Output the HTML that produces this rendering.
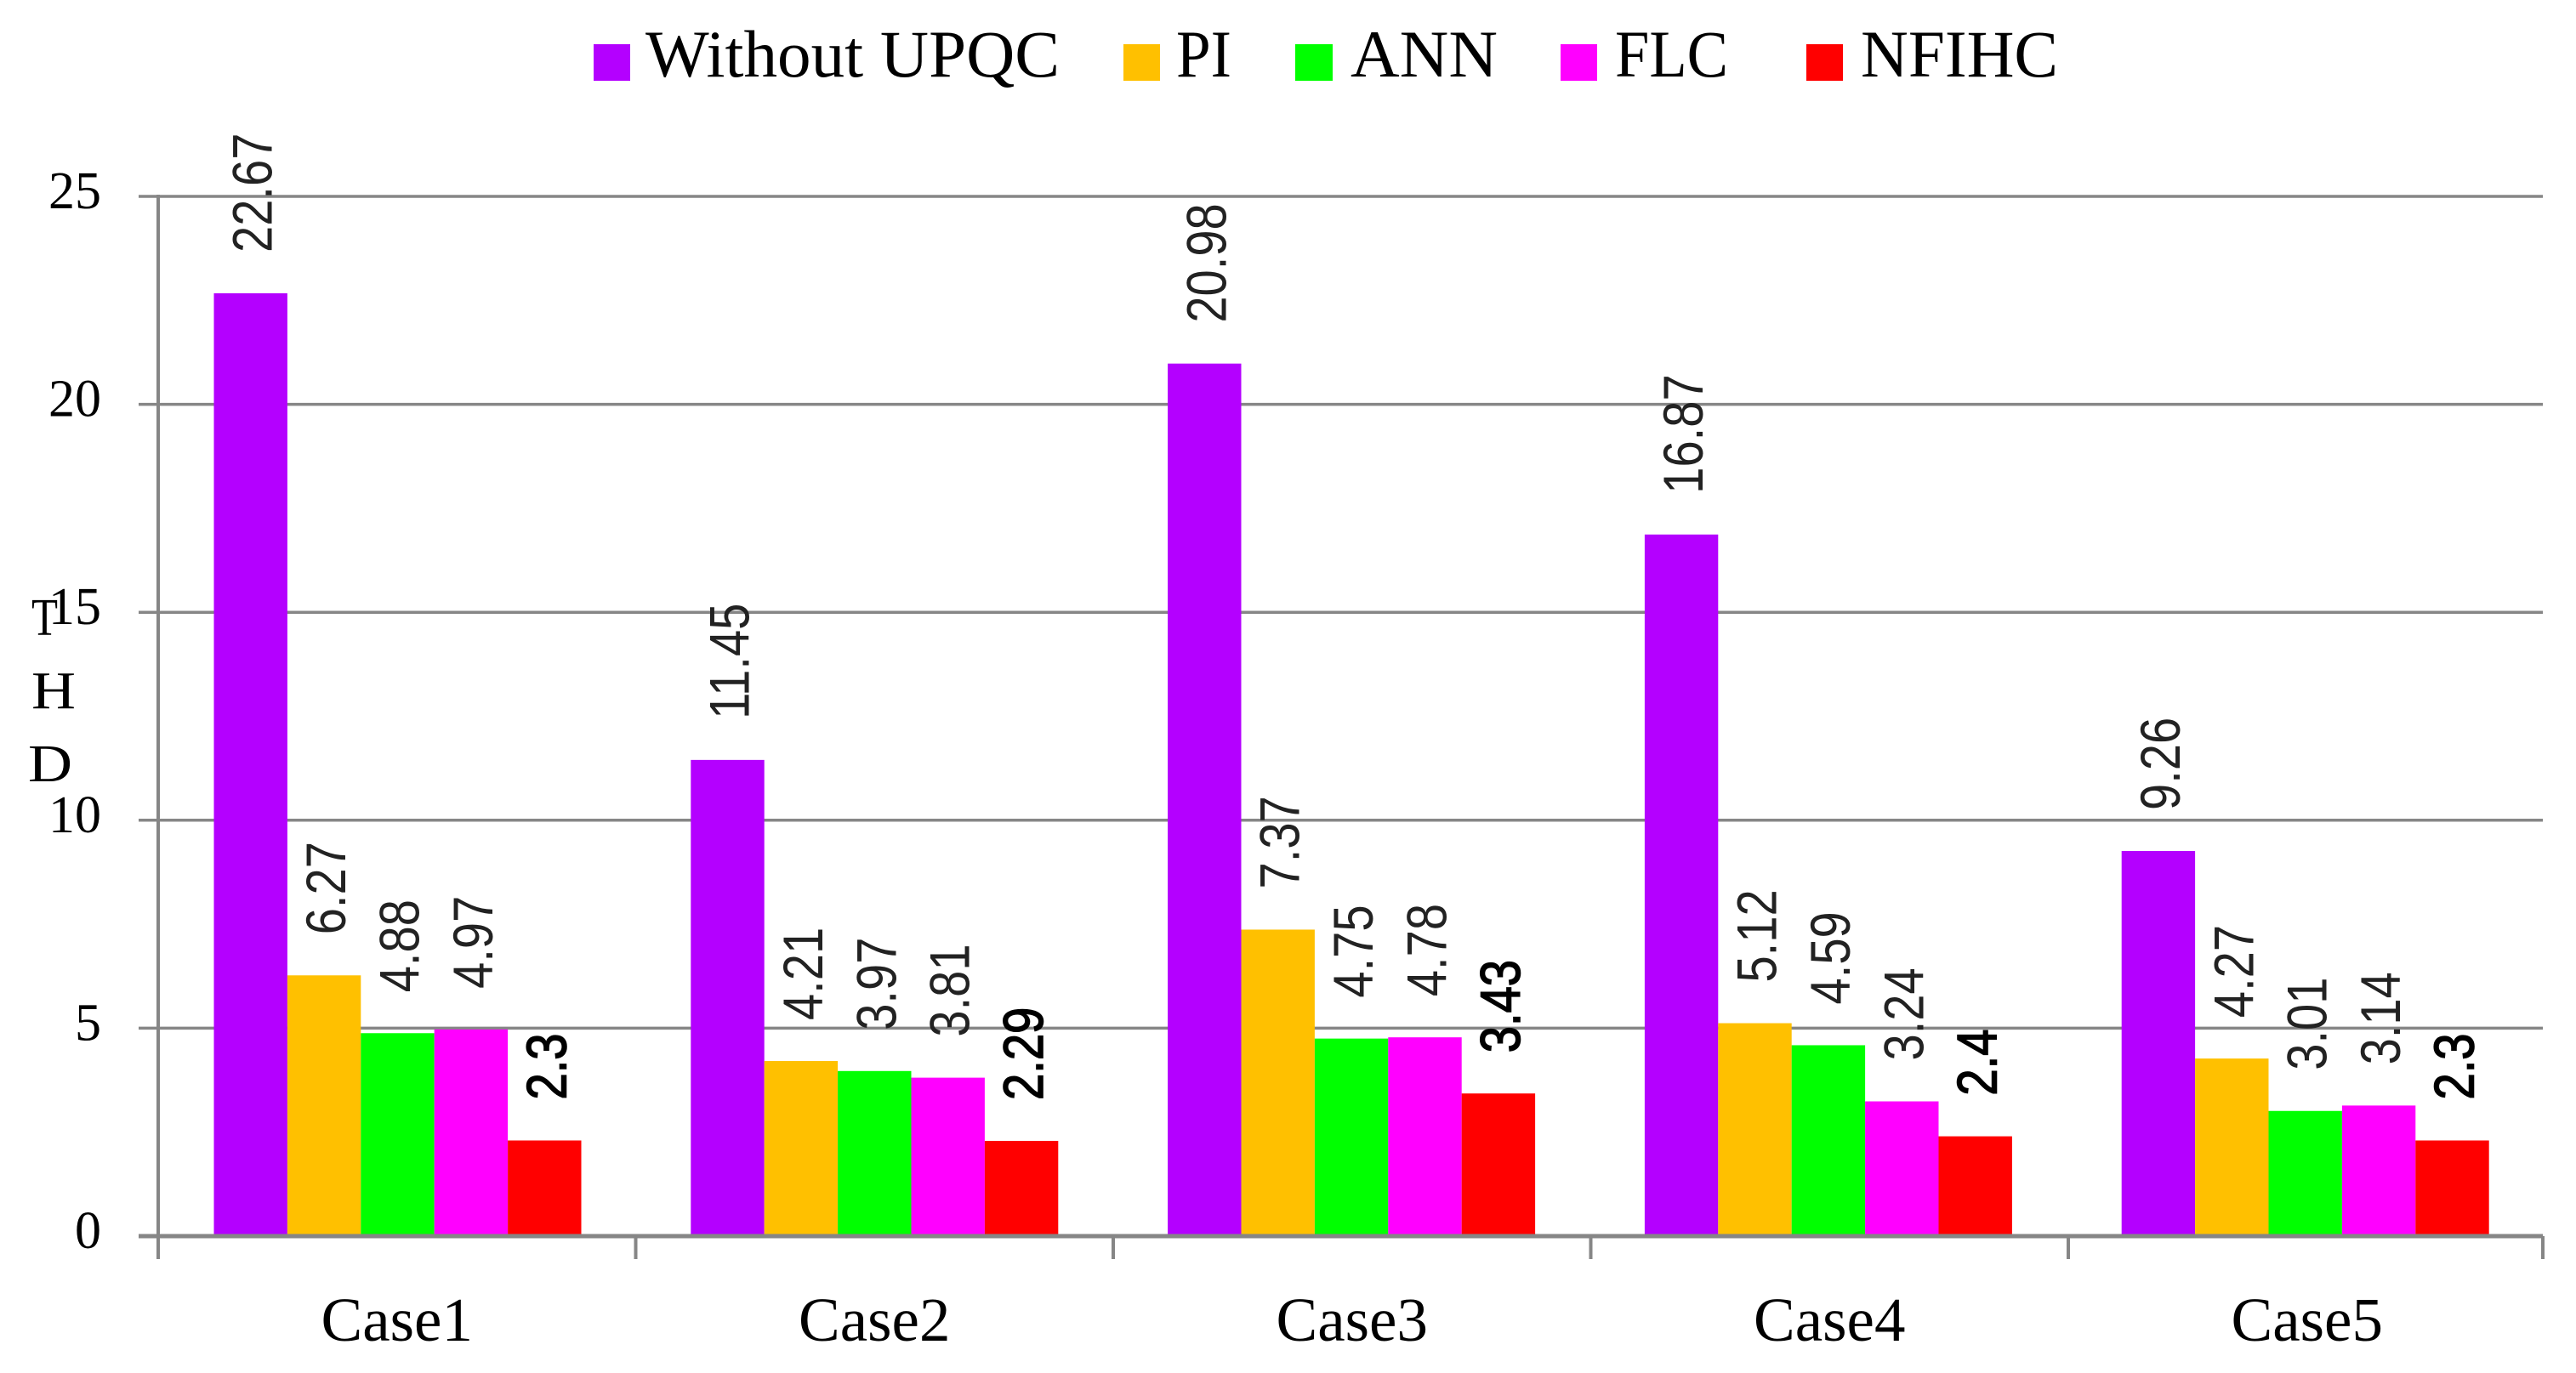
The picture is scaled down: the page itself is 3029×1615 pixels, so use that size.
<!DOCTYPE html>
<html lang="en">
<head>
<meta charset="utf-8">
<title>THD comparison chart</title>
<style>
  html, body { margin: 0; padding: 0; background: #fff; }
  #chart { display: block; width: 3029px; height: 1615px; }
  text { font-family: "Liberation Serif", serif; fill: #000; }
  .value-label { font-family: "Liberation Sans", sans-serif; font-size: 66px; fill: #222; }
  .value-label-strong { font-family: "Liberation Sans", sans-serif; font-size: 66px; fill: #000; stroke: #000; stroke-width: 1.6px; }
</style>
</head>
<body>
<svg id="chart" xmlns="http://www.w3.org/2000/svg" width="3029" height="1615" viewBox="0 0 3029 1615">
  <rect x="0" y="0" width="3029" height="1615" fill="#fff"/>

  <g id="grid"></g>
  <g id="bars"></g>
  <g id="axes"></g>
  <g id="labels"></g>

  <g font-size="62">
    <text x="37" y="747" textLength="31" lengthAdjust="spacingAndGlyphs">T</text>
    <text x="37" y="833" textLength="52" lengthAdjust="spacingAndGlyphs">H</text>
    <text x="33" y="919" textLength="52" lengthAdjust="spacingAndGlyphs">D</text>
  </g>

  <g font-size="78">
    <g>
      <rect x="698" y="52" width="43" height="43" fill="#b400ff"/>
      <text x="759" y="90" textLength="487" lengthAdjust="spacingAndGlyphs">Without UPQC</text>
    </g>
    <g>
      <rect x="1321" y="52" width="43" height="43" fill="#ffc000"/>
      <text x="1383" y="90" textLength="65" lengthAdjust="spacingAndGlyphs">PI</text>
    </g>
    <g>
      <rect x="1523" y="52" width="44" height="43" fill="#00ff00"/>
      <text x="1588" y="90" textLength="173" lengthAdjust="spacingAndGlyphs">ANN</text>
    </g>
    <g>
      <rect x="1835" y="52" width="43" height="43" fill="#ff00ff"/>
      <text x="1899" y="90" textLength="133" lengthAdjust="spacingAndGlyphs">FLC</text>
    </g>
    <g>
      <rect x="2124" y="52" width="43" height="43" fill="#ff0000"/>
      <text x="2188" y="90" textLength="232" lengthAdjust="spacingAndGlyphs">NFIHC</text>
    </g>
  </g>
</svg>

<script>
const categories = ['Case1', 'Case2', 'Case3', 'Case4', 'Case5'];
const yTicks = [0, 5, 10, 15, 20, 25];
const withoutUpqc = [22.67, 11.45, 20.98, 16.87, 9.26];
const pi = [6.27, 4.21, 7.37, 5.12, 4.27];
const ann = [4.88, 3.97, 4.75, 4.59, 3.01];
const flc = [4.97, 3.81, 4.78, 3.24, 3.14];
const nfihc = [2.3, 2.29, 3.43, 2.4, 2.3];

const seriesList = [
  { key: 'without-upqc', values: withoutUpqc, color: '#b400ff', strong: false },
  { key: 'pi', values: pi, color: '#ffc000', strong: false },
  { key: 'ann', values: ann, color: '#00ff00', strong: false },
  { key: 'flc', values: flc, color: '#ff00ff', strong: false },
  { key: 'nfihc', values: nfihc, color: '#ff0000', strong: true }
];

const NS = 'http://www.w3.org/2000/svg';
const axisColor = '#868686';
const plotLeft = 186;
const plotRight = 2990;
const plotBottom = 1454;
const pxPerUnit = 48.92;
const step = (plotRight - plotLeft) / categories.length;
const tickStep = 561.5;
const groupOffset = 65.5;
const barWidth = 86.4;
const labelGap = 48;

function yScale(v) { return plotBottom - v * pxPerUnit; }
function barX(catIndex, seriesIndex) { return plotLeft + step * catIndex + groupOffset + barWidth * seriesIndex; }

function svgEl(tag, attrs, parent) {
  const el = document.createElementNS(NS, tag);
  Object.keys(attrs).forEach(function (k) { el.setAttribute(k, attrs[k]); });
  parent.appendChild(el);
  return el;
}

const gridG = document.getElementById('grid');
const barsG = document.getElementById('bars');
const axesG = document.getElementById('axes');
const labelsG = document.getElementById('labels');

yTicks.forEach(function (t) {
  if (t !== 0) {
    const line = svgEl('line', { x1: 163, x2: plotRight, y1: yScale(t), y2: yScale(t), stroke: axisColor, 'stroke-width': 3.5 }, gridG);
    
    
  }
  const label = svgEl('text', { x: 119, y: yScale(t) + 14, 'text-anchor': 'end', 'font-size': 62 }, axesG);
  label.textContent = String(t);
  
  
});

seriesList.forEach(function (s, si) {
  s.values.forEach(function (v, ci) {
    const x = barX(ci, si);
    const y = yScale(v);
    const bar = svgEl('rect', { x: x, y: y, width: barWidth, height: plotBottom - y, fill: s.color }, barsG);
    
    

    const lx = x + barWidth / 2 + 25;
    const ly = y - labelGap;
    const label = svgEl('text', {
      transform: 'translate(' + lx + ',' + ly + ') rotate(-90) scale(0.85,1)',
      'class': s.strong ? 'value-label-strong' : 'value-label'
    }, labelsG);
    label.textContent = String(v);
    
    
  });
});

const yAxis = svgEl('line', { x1: plotLeft, x2: plotLeft, y1: yScale(25) - 2, y2: 1481, stroke: axisColor, 'stroke-width': 4 }, axesG);



const xAxis = svgEl('line', { x1: 163, x2: plotRight, y1: plotBottom, y2: plotBottom, stroke: axisColor, 'stroke-width': 5 }, axesG);



categories.forEach(function (c, i) {
  const tx = Math.min(plotRight, plotLeft + tickStep * (i + 1));
  const tick = svgEl('line', { x1: tx, x2: tx, y1: plotBottom, y2: 1481, stroke: axisColor, 'stroke-width': 4 }, axesG);
  
  

  const label = svgEl('text', { x: plotLeft + tickStep * (i + 0.5), y: 1577, 'text-anchor': 'middle', 'font-size': 73 }, axesG);
  label.textContent = c;
  
  
});
</script>
</body>
</html>
